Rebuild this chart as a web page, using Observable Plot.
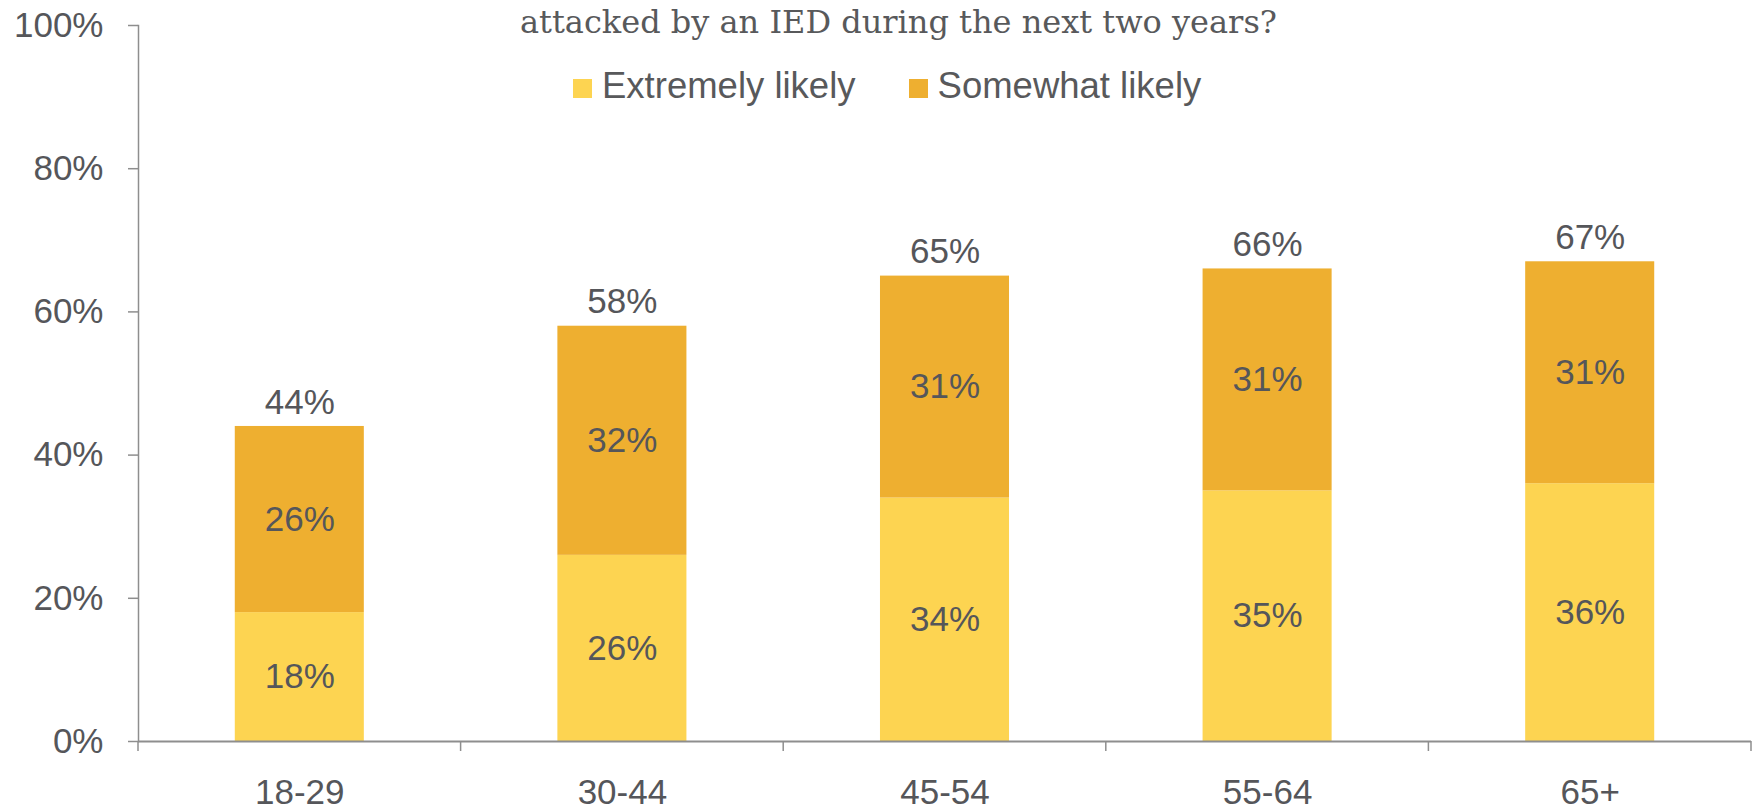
<!DOCTYPE html>
<html>
<head>
<meta charset="utf-8">
<script src="https://cdn.jsdelivr.net/npm/d3@7"></script>
<script src="https://cdn.jsdelivr.net/npm/@observablehq/plot@0.6"></script>
<style>
  body { margin: 0; background: #ffffff; }
  #wrap { position: relative; width: 1752px; height: 812px; overflow: hidden; background: #fff; }
  #wrap svg { display: block; }
  #title { position: absolute; left: 0; width: 1797px; top: 6px; text-align: center;
           font-family: "DejaVu Serif", serif; font-size: 32px; line-height: 32px;
           color: #58595b; white-space: nowrap; }
  #legend { position: absolute; left: 573px; top: 68px; display: flex; align-items: center;
            font-family: "Liberation Sans", Arial, sans-serif; font-size: 36.5px; line-height: 36px;
            color: #58595b; white-space: nowrap; }
  .item { display: flex; align-items: center; margin-right: 53px; }
  .sw { width: 19px; height: 19px; margin-right: 10px; position: relative; top: 2px; }
</style>
</head>
<body>
<div id="wrap">
  <div id="chart"></div>
  <div id="title"></div>
  <div id="legend"></div>
</div>
<script>
// ---- data ----
const titleText = "attacked by an IED during the next two years?";
const ages = ["18-29", "30-44", "45-54", "55-64", "65+"];
const seriesNames = ["Extremely likely", "Somewhat likely"];
const extremelyLikely = [18, 26, 34, 35, 36];
const somewhatLikely = [26, 32, 31, 31, 31];
const seriesColors = ["#FDD451", "#EEAF30"];
const yTicks = [0, 20, 40, 60, 80, 100];

const rows = ages.flatMap((age, i) => [
  {age, series: seriesNames[0], value: extremelyLikely[i]},
  {age, series: seriesNames[1], value: somewhatLikely[i]}
]);
const totals = ages.map((age, i) => ({age, total: extremelyLikely[i] + somewhatLikely[i]}));

const textColor = "#55565a";
const axisColor = "#8e8e8e";
const fontFamily = "'Liberation Sans', Arial, Helvetica, sans-serif";

const chart = Plot.plot({
  width: 1752,
  height: 812,
  marginLeft: 138,
  marginRight: 1,
  marginTop: 25,
  marginBottom: 71,
  style: {fontFamily, fontSize: "35px", background: "#ffffff", color: textColor},
  x: {domain: ages, paddingInner: 0.6, paddingOuter: 0.3, round: false, label: null},
  y: {domain: [0, 100], label: null},
  color: {domain: seriesNames, range: seriesColors},
  marks: [
    Plot.barY(rows, {x: "age", y: "value", fill: "series"}),
    Plot.text(rows, Plot.stackY({x: "age", y: "value", z: "series",
      text: d => d.value + "%", fill: textColor, fontSize: 35})),
    Plot.text(totals, {x: "age", y: "total", text: d => d.total + "%",
      dy: -24, fill: textColor, fontSize: 35}),
    Plot.axisY({ticks: yTicks, tickFormat: d => d + "%", tickSize: 10, tickPadding: 25,
      stroke: axisColor, strokeWidth: 1.5, fill: textColor, fontSize: 35, label: null}),
    Plot.axisX({tickSize: 0, tickPadding: 38, fill: textColor, fontSize: 35, label: null}),
    Plot.frame({anchor: "left", stroke: axisColor, strokeWidth: 1.5}),
    Plot.ruleY([0], {stroke: axisColor, strokeWidth: 2})
  ]
});

document.getElementById("chart").appendChild(chart);

// category-boundary tick marks below the baseline, from Plot's own scales
const xs = chart.scale("x");
const ys = chart.scale("y");
const [r0, r1] = xs.range;
const step = (r1 - r0) / ages.length;
const yBase = ys.apply(0);
const svgNode = chart.tagName.toLowerCase() === "svg" ? chart : chart.querySelector("svg");
d3.select(svgNode).append("g")
  .selectAll("line")
  .data(d3.range(ages.length + 1))
  .join("line")
  .attr("x1", i => r0 + i * step)
  .attr("x2", i => r0 + i * step)
  .attr("y1", yBase)
  .attr("y2", yBase + 10)
  .attr("stroke", axisColor)
  .attr("stroke-width", 1.5);

// title and legend
document.getElementById("title").textContent = titleText;
const legend = d3.select("#legend");
seriesNames.forEach((name, i) => {
  const item = legend.append("div").attr("class", "item");
  item.append("div").attr("class", "sw").style("background", seriesColors[i]);
  item.append("span").text(name);
});
</script>
</body>
</html>
